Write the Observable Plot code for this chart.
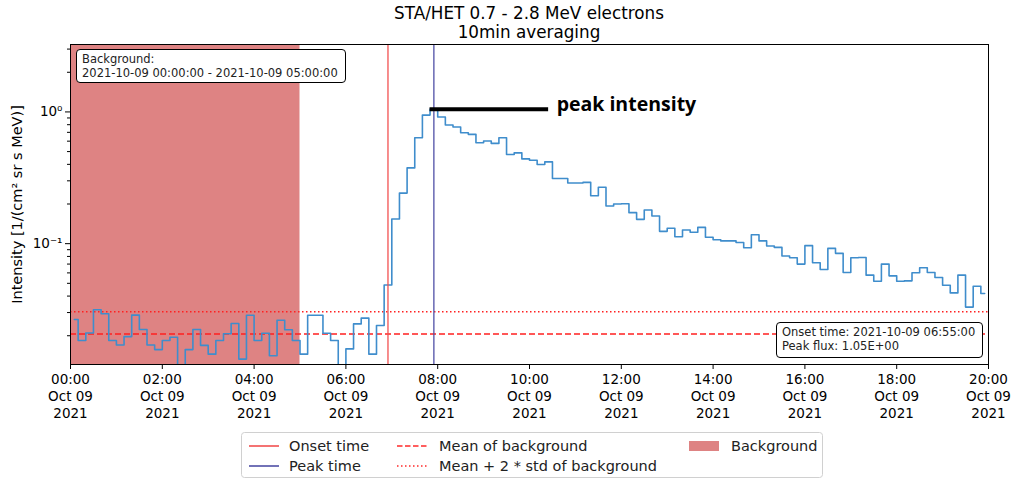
<!DOCTYPE html>
<html><head><meta charset="utf-8">
<script src="https://cdn.jsdelivr.net/npm/d3@7"></script>
<script src="https://cdn.jsdelivr.net/npm/@observablehq/plot@0.6"></script>
<style>
body{margin:0;background:#fff;font-family:"DejaVu Sans",sans-serif;}
#wrap{position:relative;width:1025px;height:480px;overflow:hidden;}
#title{position:absolute;left:70px;width:918px;top:4px;text-align:center;font-size:16.8px;line-height:19px;color:#000;}
#chart{position:absolute;left:0;top:42px;}
.box{position:absolute;background:#fff;border:1.5px solid #000;border-radius:4px;font-size:11.5px;line-height:14px;padding:2px 5px 2px 5px;white-space:pre;color:#222;}
#legend{position:absolute;left:241px;top:432px;}
</style>
</head><body>
<div id="wrap">
  <div id="title"></div>
  <div id="chart"></div>
  <div class="box" id="bgbox" style="left:76px;top:49px;width:258px;height:28px;"></div>
  <div class="box" id="onbox" style="left:776px;top:322px;width:195px;height:30px;"></div>
  <div id="legend"></div>
</div>
<script>
// ---- data ----
const titleLines = ["STA/HET 0.7 - 2.8 MeV electrons", "10min averaging"];
const yLabel = "Intensity [1/(cm² sr s MeV)]";
const dayStart = Date.UTC(2021, 9, 9, 0, 0);
const binMinutes = 10;
// 10-min averaged intensity, bins starting 00:00
const intensity = [
  0.0266,0.0184,0.0210,0.0315,0.0294,0.0184,0.0170,0.0197,0.0287,0.0223,
  0.0170,0.0157,0.0184,0.0195,0.0105,0.0157,0.0223,0.0169,0.0145,0.0184,
  0.0207,0.0248,0.0133,0.0286,0.0184,0.0209,0.0141,0.0262,0.0222,0.0184,
  0.0145,0.0286,0.0286,0.0209,0.0184,0.0108,0.0159,0.0246,0.0272,0.0145,
  0.0239,0.0486,0.154,0.242,0.376,0.637,0.946,1.05,0.916,0.796,
  0.768,0.695,0.676,0.583,0.601,0.577,0.637,0.475,0.489,0.440,
  0.430,0.399,0.418,0.312,0.312,0.289,0.289,0.292,0.231,0.268,
  0.193,0.200,0.201,0.172,0.153,0.180,0.162,0.124,0.131,0.113,
  0.127,0.122,0.133,0.112,0.107,0.105,0.105,0.102,0.0932,0.117,
  0.105,0.096,0.0937,0.0807,0.0782,0.070,0.0966,0.0716,0.0637,0.0921,
  0.0844,0.0604,0.0782,0.0786,0.0577,0.0519,0.070,0.0570,0.0519,0.0522,
  0.0601,0.0656,0.0604,0.0553,0.0484,0.0423,0.0577,0.0330,0.0475,0.0418
];
const bgMean = 0.0206;
const bgMeanPlus2Std = 0.0304;
const bgWindowHours = [0, 5];
const onsetHM = [6, 55];
const peakHM = [7, 55];
const peakFlux = 1.05;
const xTickHours = [0,2,4,6,8,10,12,14,16,18,20];
const yMajorTicks = [0.1, 1];
const yMinorTicks = [0.02,0.03,0.04,0.05,0.06,0.07,0.08,0.09,0.2,0.3,0.4,0.5,0.6,0.7,0.8,0.9,2,3];
const bgBoxText = "Background:\n2021-10-09 00:00:00 - 2021-10-09 05:00:00";
const infoBoxText = "Onset time: 2021-10-09 06:55:00\nPeak flux: 1.05E+00";
const legendItems = [
  {label:"Onset time", kind:"line", color:"#f25050", dash:null},
  {label:"Peak time", kind:"line", color:"#4f4fa6", dash:null},
  {label:"Mean of background", kind:"line", color:"#ff2a2a", dash:"5.5,2.5"},
  {label:"Mean + 2 * std of background", kind:"line", color:"#ff2a2a", dash:"1.5,2.5"},
  {label:"Background", kind:"patch", color:"#de8383"}
];

// ---- build ----
const H = 3600000, M = 60000;
const data = intensity.map((v, i) => ({t: new Date(dayStart + (i*binMinutes + binMinutes/2)*M), v}));
const onset = new Date(dayStart + onsetHM[0]*H + onsetHM[1]*M);
const peakT = new Date(dayStart + peakHM[0]*H + peakHM[1]*M);
const peakBinStart = new Date(+peakT - binMinutes/2*M);
const peakLabelEnd = new Date(+peakBinStart + 155*M);
const bg = [{x1: new Date(dayStart + bgWindowHours[0]*H), x2: new Date(dayStart + bgWindowHours[1]*H)}];
const xTicks = xTickHours.map(h => new Date(dayStart + h*H));
const fmt = d3.utcFormat("%H:%M\n%b %d\n%Y");
const sup = {"1":"⁰","0.1":"⁻¹"};

document.getElementById("title").innerHTML = titleLines.join("<br>");
document.getElementById("bgbox").textContent = bgBoxText;
document.getElementById("onbox").textContent = infoBoxText;

const chart = Plot.plot({
  width: 1025, height: 385,
  marginLeft: 70, marginRight: 37, marginTop: 2, marginBottom: 63,
  x: {type: "utc", domain: [new Date(dayStart), new Date(dayStart + 20*H)]},
  y: {type: "log", domain: [0.0121, 3.25]},
  style: {fontFamily: "DejaVu Sans, sans-serif", fontSize: "13.5px", color: "#000", background: "transparent"},
  marks: [
    Plot.rect(bg, {x1: "x1", x2: "x2", fill: "#de8383"}),
    Plot.ruleY([bgMean], {stroke: "#ff2020", strokeWidth: 1.5, strokeDasharray: "6,3"}),
    Plot.ruleY([bgMeanPlus2Std], {stroke: "#ff2020", strokeWidth: 1.5, strokeDasharray: "1.5,2.5"}),
    Plot.line(data, {x: "t", y: "v", curve: "step", stroke: "#3f8dcc", strokeWidth: 1.6, clip: true}),
    Plot.ruleX([onset], {stroke: "#f25050", strokeWidth: 1.3}),
    Plot.ruleX([peakT], {stroke: "#4f4fa6", strokeWidth: 1.3}),
    Plot.ruleY([peakFlux], {x1: peakBinStart, x2: peakLabelEnd, stroke: "#000", strokeWidth: 4}),
    Plot.text(["peak intensity"], {x: peakLabelEnd, y: peakFlux, text: d => d, textAnchor: "start", dx: 8, dy: -4,
      fontFamily: "Open Sans, sans-serif", fontWeight: "bold", fontSize: 19.5, fill: "#000"}),
    Plot.axisX({ticks: xTicks, tickFormat: fmt, tickSize: 5, tickPadding: 3, lineHeight: 1.25, label: null}),
    Plot.axisY({ticks: yMajorTicks, tickFormat: d => "10" + sup[String(d)], tickSize: 5, tickPadding: 3, label: null}),
    Plot.axisY({ticks: yMinorTicks, tickFormat: () => "", tickSize: 3, label: null}),
    Plot.text([yLabel], {frameAnchor: "left", text: d => d, rotate: -90, textAnchor: "middle", dx: -53, fontSize: 14.5, fill: "#000"}),
    Plot.frame({stroke: "#000", strokeWidth: 1})
  ]
});
document.getElementById("chart").appendChild(chart);

// legend
const lw = 582, lh = 46;
const cols = [{sx:8, tx:48, w:30}, {sx:156, tx:198, w:30}, {sx:448, tx:490, w:30}];
const rows = [14, 34];
const pos = [[0,0],[0,1],[1,0],[1,1],[2,0]];
let svg = `<svg width="${lw}" height="${lh}" xmlns="http://www.w3.org/2000/svg" style="font-family:'DejaVu Sans',sans-serif;font-size:14.5px">`;
svg += `<rect x="0.5" y="0.5" width="${lw-1}" height="${lh-1}" rx="3" fill="#fff" stroke="#d0d0d0"/>`;
legendItems.forEach((it, i) => {
  const [c, r] = pos[i];
  const y = rows[r], sx = cols[c].sx, tx = cols[c].tx, w = cols[c].w;
  if (it.kind === "line") {
    svg += `<line x1="${sx}" x2="${sx+w}" y1="${y}" y2="${y}" stroke="${it.color}" stroke-width="1.6" ${it.dash ? `stroke-dasharray="${it.dash}"` : ""}/>`;
  } else {
    svg += `<rect x="${sx}" y="${y-5}" width="${w}" height="10" fill="${it.color}"/>`;
  }
  svg += `<text x="${tx}" y="${y}" dy="0.35em" fill="#222">${it.label}</text>`;
});
svg += `</svg>`;
document.getElementById("legend").innerHTML = svg;
</script>
</body></html>
